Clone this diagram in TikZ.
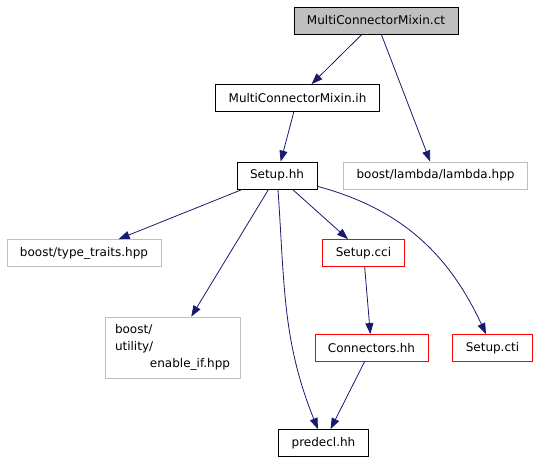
\documentclass[tikz,border=0pt]{standalone}
\usepackage{fontspec}
\setmainfont{DejaVu Sans}
\usepackage{tikz}
\usetikzlibrary{arrows.meta}
\usetikzlibrary{positioning}
\definecolor{edgeblue}{HTML}{191970}
\definecolor{boxgray}{HTML}{BFBFBF}
\tikzstyle{file} = [rectangle, draw=black, line width=0.8pt, minimum height=27pt, inner xsep=13pt, font=\fontsize{12}{14}\selectfont]
\tikzstyle{current} = [file, fill=boxgray]
\tikzstyle{extern} = [file, draw=boxgray]
\tikzstyle{missing} = [file, draw=red]
\tikzstyle{arrow} = [draw=edgeblue, line width=0.8pt, -{Triangle[length=11pt, width=8pt]}]

\begin{document}
\begin{tikzpicture}[node distance=77.5pt]
                                \useasboundingbox (0,0) rectangle (536pt,-461pt);
                                \node (ct) [current] at (376pt,-20.5pt) {MultiConnectorMixin.ct};
                                \node (ih) [file, below of = ct, xshift=-78.5pt] {MultiConnectorMixin.ih};
                                \node (setup) [file, below of = ih, xshift=-20.5pt] {Setup.hh};
                                \node (lambda) [extern, below of = ih, xshift=138pt] {boost/lambda/lambda.hpp};
                                \node (tt) [extern, below of = setup, xshift=-193pt] {boost/type\_traits.hpp};
                                \node (cci) [missing, below of = setup, xshift=86.5pt] {Setup.cci};
                                \node (conn) [missing, below of = cci, node distance=95pt, xshift=8pt] {Connectors.hh};
                                \node (cti) [missing, below of = cci, node distance=95pt, xshift=129pt] {Setup.cti};
                                \node (enable) [extern, below of = tt, node distance=94.5pt, xshift=88.5pt, text width=115pt, inner xsep=10pt, inner ysep=7.5pt, align=left, font=\fontsize{12}{17}\selectfont] {boost/\\utility/\\\hspace*{\fill}enable\_if.hpp};
                                \node (predecl) [file, below of = conn, node distance=95pt, xshift=-48pt] {predecl.hh};
                                \draw [arrow] (ct) -- (ih);
                                \draw [arrow] (ct) -- (lambda);
                                \draw [arrow] (ih) -- (setup);
                                \draw [arrow] (setup) -- (tt);
                                \draw [arrow] (setup) -- (enable);
                                \draw [arrow] (setup) to [out = -86, in = 112] (predecl);
                                \draw [arrow] (setup) -- (cci);
                                \draw [arrow] (setup) to [out = -15, in = 115] (cti);
                                \draw [arrow] (cci) -- (conn);
                                \draw [arrow] (conn) -- (predecl);
                            \end{tikzpicture}
\end{document}
